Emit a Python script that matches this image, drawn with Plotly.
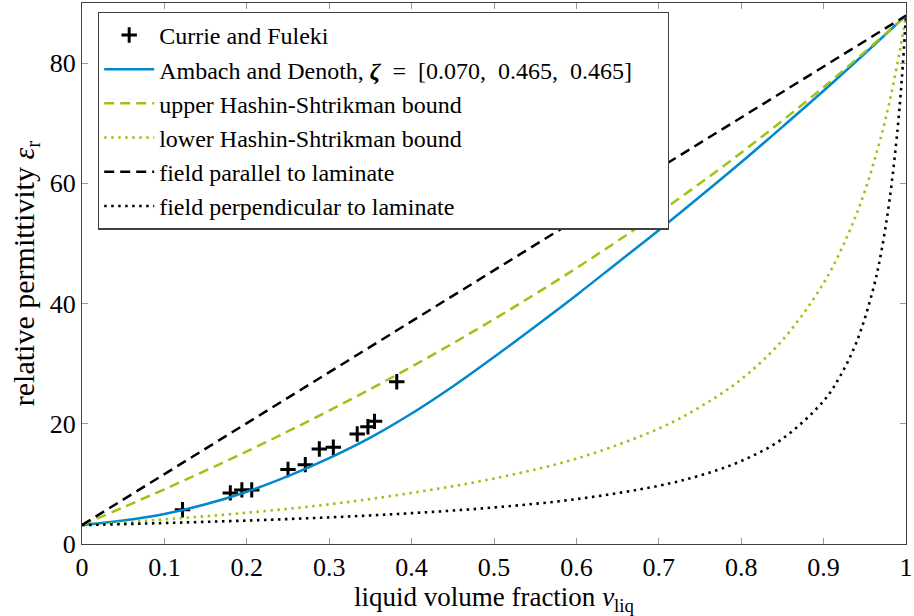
import plotly.graph_objects as go

# Currie and Fuleki measurements
meas_v = [0.122, 0.180, 0.194, 0.206, 0.250, 0.271, 0.288, 0.305, 0.334, 0.347, 0.355, 0.382]
meas_eps = [5.7, 8.5, 9.0, 9.0, 12.4, 13.2, 15.8, 16.1, 18.3, 19.5, 20.4, 27.0]

# Ambach and Denoth curve
ad_v = [0.0, 0.05, 0.1, 0.15, 0.2, 0.25, 0.3, 0.35, 0.4, 0.45, 0.5, 0.55, 0.6, 0.65, 0.7, 0.75, 0.8, 0.85, 0.9, 0.95, 1.0]
ad_eps = [3.15, 3.9, 5.0, 6.6, 8.7, 11.3, 14.3, 17.7, 21.7, 26.2, 31.1, 36.2, 41.4, 46.8, 52.2, 57.8, 63.5, 69.4, 75.4, 81.6, 87.9]

# upper Hashin-Shtrikman bound
hsu_v = [0.0, 0.05, 0.1, 0.2, 0.3, 0.4, 0.5, 0.6, 0.7, 0.8, 0.9, 1.0]
hsu_eps = [3.15, 6.1, 9.1, 15.4, 22.2, 29.5, 37.4, 45.9, 55.1, 65.1, 76.0, 87.9]

# lower Hashin-Shtrikman bound
hsl_v = [0.0, 0.05, 0.1, 0.2, 0.3, 0.4, 0.5, 0.6, 0.7, 0.75, 0.8, 0.85, 0.9, 0.93, 0.95, 0.97, 0.98, 0.99, 0.995, 1.0]
hsl_eps = [3.15, 3.6, 4.1, 5.2, 6.6, 8.5, 10.9, 14.2, 19.2, 22.8, 27.4, 33.9, 43.4, 51.6, 58.7, 67.9, 73.6, 80.2, 83.9, 87.9]

# field parallel to laminate
par_v = [0.0, 1.0]
par_eps = [3.15, 87.9]

# field perpendicular to laminate
perp_v = [0.0, 0.05, 0.1, 0.2, 0.3, 0.4, 0.5, 0.6, 0.7, 0.75, 0.8, 0.85, 0.9, 0.92, 0.94, 0.96, 0.97, 0.98, 0.99, 0.995, 1.0]
perp_eps = [3.15, 3.31, 3.49, 3.90, 4.43, 5.13, 6.08, 7.47, 9.69, 11.4, 13.8, 17.5, 23.8, 27.9, 33.6, 42.3, 48.6, 57.2, 69.3, 77.5, 87.9]

x_ticks = [0, 0.1, 0.2, 0.3, 0.4, 0.5, 0.6, 0.7, 0.8, 0.9, 1]
x_ticklabels = ["0", "0.1", "0.2", "0.3", "0.4", "0.5", "0.6", "0.7", "0.8", "0.9", "1"]
y_ticks = [0, 20, 40, 60, 80]

BLUE = "#0088CC"
GREEN = "#9DC314"
FONT = "Liberation Serif, DejaVu Serif, serif"

fig = go.Figure()
fig.add_trace(go.Scatter(x=meas_v, y=meas_eps, mode="markers", name="Currie and Fuleki",
                         marker=dict(symbol="cross-thin", size=11, color="black",
                                     line=dict(color="black", width=3))))
fig.add_trace(go.Scatter(x=ad_v, y=ad_eps, mode="lines", line_shape="spline",
                         name=("Ambach and Denoth, <b><i>ζ</i></b>\u2002=\u2002[0.070,\u20020.465,\u20020.465]"
                               "\u2003<span style=\"color:rgba(255,255,255,0)\">.</span>"),
                         line=dict(color=BLUE, width=2.5)))
fig.add_trace(go.Scatter(x=hsu_v, y=hsu_eps, mode="lines", line_shape="spline",
                         name="upper Hashin-Shtrikman bound",
                         line=dict(color=GREEN, width=2.5, dash="10px,6px")))
fig.add_trace(go.Scatter(x=hsl_v, y=hsl_eps, mode="lines", line_shape="spline",
                         name="lower Hashin-Shtrikman bound",
                         line=dict(color=GREEN, width=2.6, dash="2.5px,4.5px")))
fig.add_trace(go.Scatter(x=par_v, y=par_eps, mode="lines",
                         name="field parallel to laminate",
                         line=dict(color="black", width=2.5, dash="10px,6px")))
fig.add_trace(go.Scatter(x=perp_v, y=perp_eps, mode="lines", line_shape="spline",
                         name="field perpendicular to laminate",
                         line=dict(color="black", width=2.6, dash="2.5px,4.5px")))

axis_common = dict(showline=True, linecolor="#404040", linewidth=1.2, mirror="ticks",
                   ticks="inside", ticklen=6, tickcolor="#999999", tickwidth=1,
                   showgrid=False, zeroline=False, automargin=False,
                   tickfont=dict(family=FONT, size=26, color="black"))

fig.update_layout(
    width=914, height=616,
    margin=dict(l=82, r=8, t=3, b=72, autoexpand=False),
    paper_bgcolor="white", plot_bgcolor="white",
    font=dict(family=FONT, size=24, color="black"),
    showlegend=True,
    legend=dict(x=0.0194, y=0.984, xanchor="left", yanchor="top",
                bgcolor="white", bordercolor="#404040", borderwidth=1.2,
                font=dict(family=FONT, size=24, color="black"),
                traceorder="normal", itemwidth=50),
    xaxis=dict(range=[0, 1], tickvals=x_ticks, ticktext=x_ticklabels,
               title=dict(text="liquid volume fraction <i>v</i><sub>liq</sub>",
                          font=dict(family=FONT, size=27), standoff=9),
               **axis_common),
    yaxis=dict(range=[0, 90], tickvals=y_ticks,
               title=dict(text="relative permittivity <i>ε</i><sub>r</sub>",
                          font=dict(family=FONT, size=30), standoff=6),
               **axis_common),
)

fig.write_html("out.html", post_script="document.body.style.margin='0';",
               config={"displayModeBar": False})
